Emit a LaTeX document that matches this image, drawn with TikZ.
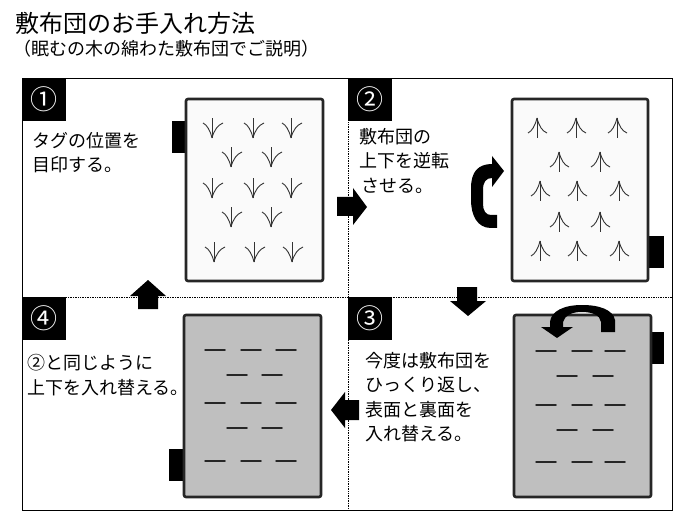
\documentclass[tikz,border=0pt]{standalone}
\usepackage{fontspec}
\setmainfont{Noto Sans CJK JP}
\begin{document}
\begin{tikzpicture}[x=1pt,y=-1pt,
  lbl/.style={anchor=west,inner sep=0pt,font=\fontsize{18}{20}\selectfont},
  numbox/.style={fill=black,draw=none},
  num/.style={text=white,inner sep=0pt,font=\fontsize{27}{30}\selectfont},
  futon/.style={draw=black!85,line width=2.6pt,rounded corners=2pt},
  tagbox/.style={fill=black,draw=none},
  blockarrow/.style={fill=black,draw=none},
  sprout/.style={draw=black!80,line width=0.9pt},
  dashline/.style={line width=1.5pt,line cap=round,draw=black!85},
  pdiv/.style={densely dotted,line width=0.7pt}]
\useasboundingbox (0,0) rectangle (700,526);
\fill[white] (0,0) rectangle (700,526);
\node[anchor=west,inner sep=0pt,font=\fontsize{24}{26}\selectfont] (title) at (15,23) {敷布団のお手入れ方法};
\node[anchor=west,inner sep=0pt,font=\fontsize{18}{20}\selectfont] (sub) at (13,49) {（眠むの木の綿わた敷布団でご説明）};
% frame
\draw[line width=0.8pt] (22.5,78.5) rectangle (672,510);
\draw[pdiv] (348.5,78) -- (348.5,510);
\draw[pdiv] (22,297.5) -- (672,297.5);
% number boxes
\fill[numbox] (22,78) rectangle (66,121);
\fill[numbox] (348,78) rectangle (392,121);
\fill[numbox] (22,297) rectangle (66,340);
\fill[numbox] (348,297) rectangle (392,340);
\node[num] (n1) at (44,99) {①};
\node[num] (n2) at (370,99) {②};
\node[num] (n3) at (370,318) {③};
\node[num] (n4) at (44,318) {④};
% tags
\fill[tagbox] (172,121) rectangle (187,153);
\fill[tagbox] (648,236) rectangle (664,268);
\fill[tagbox] (650,332) rectangle (664,364);
\fill[tagbox] (169,449) rectangle (185,481);
% futons
\draw[futon,fill=white!98!black] (186,99) rectangle (323,281);
\draw[futon,fill=white!98!black] (512,99) rectangle (648,281);
\draw[futon,fill=black!25] (514,315) rectangle (651,497);
\draw[futon,fill=black!25] (184,315) rectangle (321,497);
% sprouts downward
\foreach \x/\y in {212/138,253/138,291/138,231/167,271/167,212/198,253/198,291/198,231/227,271/227,214/262,254/262,292/262}{
  \draw[sprout] (\x,\y) -- ++(0,-20);
  \draw[sprout] (\x,\y) .. controls (\x-2,\y-8) and (\x-5,\y-13) .. (\x-9,\y-15);
  \draw[sprout] (\x,\y) .. controls (\x+2,\y-8) and (\x+6,\y-13) .. (\x+11,\y-15);
}
% sprouts upward
\foreach \x/\y in {537/118,576/118,617/118,559/152,600/152,540/181,577/181,619/181,559/212,600/212,540/241,577/241,619/241}{
  \draw[sprout] (\x,\y) -- ++(0,20);
  \draw[sprout] (\x,\y) .. controls (\x-2,\y+8) and (\x-5,\y+13) .. (\x-9,\y+15);
  \draw[sprout] (\x,\y) .. controls (\x+2,\y+8) and (\x+5,\y+13) .. (\x+10,\y+15);
}
% dashes panel 3
\foreach \y in {351,405,462}{
  \foreach \a in {536,572,605}{\draw[dashline] (\a,\y) -- ++(20,0);}
}
\foreach \y in {376,430}{
  \foreach \a in {557,593}{\draw[dashline] (\a,\y) -- ++(20,0);}
}
% dashes panel 4
\foreach \y in {350,403,461}{
  \foreach \a in {205,241,276}{\draw[dashline] (\a,\y) -- ++(20,0);}
}
\foreach \y in {375,428}{
  \foreach \a in {227,262}{\draw[dashline] (\a,\y) -- ++(20,0);}
}
% block arrows
\fill[blockarrow] (337,197) -- (353,197) -- (353,188) -- (367,207) -- (353,225) -- (353,216) -- (337,216) -- cycle;
\fill[blockarrow] (138,309) -- (138,296) -- (130,296) -- (148,280) -- (166,296) -- (158,296) -- (158,309) -- cycle;
\fill[blockarrow] (457,287) -- (477,287) -- (477,301) -- (486,301) -- (468,316) -- (450,301) -- (457,301) -- cycle;
\fill[blockarrow] (359,400) -- (345,400) -- (345,392) -- (331,410) -- (345,428) -- (345,420) -- (359,420) -- cycle;
% curved arrows
\fill[blockarrow] (497,228) -- (491,228) .. controls (477,228) and (471,215) .. (471,200) -- (471,188)
  .. controls (471,172) and (478,164) .. (492,164) -- (492,156) -- (504,171) -- (492,187) -- (492,178)
  .. controls (486,178) and (483,182) .. (483,190) -- (483,204) .. controls (483,211) and (486,215) .. (491,215) -- (497,215) -- cycle;
\fill[blockarrow] (615,332) -- (615,320) .. controls (613,310) and (600,305) .. (582,305)
  .. controls (564,305) and (551,311) .. (550,322) -- (550,327) -- (541,327) -- (557,338) -- (573,327) -- (563,327) -- (563,322)
  .. controls (565,315) and (572,312) .. (582,312) .. controls (592,312) and (600,315) .. (601,322) -- (601,332) -- cycle;
% labels
\node[lbl] (t1a) at (32,141) {タグの位置を};
\node[lbl] (t1b) at (32,165) {目印する。};
\node[lbl] (t2a) at (359,137) {敷布団の};
\node[lbl] (t2b) at (359,161) {上下を逆転};
\node[lbl] (t2c) at (361,186) {させる。};
\node[lbl] (t3a) at (365,361) {今度は敷布団を};
\node[lbl] (t3b) at (365,385) {ひっくり返し、};
\node[lbl] (t3c) at (365,410) {表面と裏面を};
\node[lbl] (t3d) at (365,434) {入れ替える。};
\node[lbl] (t4a) at (27,363) {②と同じように};
\node[lbl] (t4b) at (27,388) {上下を入れ替える。};
\end{tikzpicture}
\end{document}
